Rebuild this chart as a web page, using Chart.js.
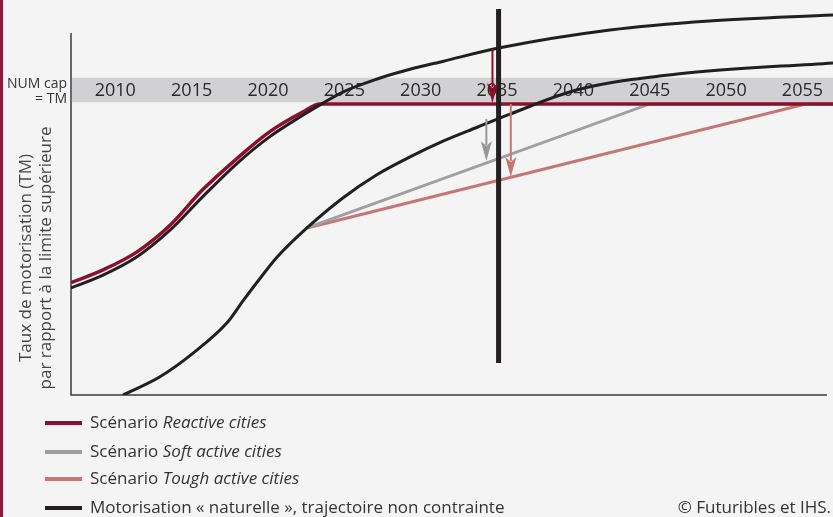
<!DOCTYPE html>
<html>
<head>
<meta charset="utf-8">
<script src="https://cdn.jsdelivr.net/npm/chart.js@4.4.1/dist/chart.umd.min.js"></script>
<style>
  html, body { margin: 0; padding: 0; background: #f4f4f4; }
  #wrap { position: relative; width: 833px; height: 517px; overflow: hidden; font-family: "Open Sans", sans-serif; color: #333; }
  #border { position: absolute; left: 0; top: 0; width: 3px; height: 517px; background: #8c1a3a; }
  .ytitle { position: absolute; left: 35px; top: 258px; transform: translate(-50%, -50%) rotate(-90deg); white-space: nowrap; text-align: center; font-size: 17px; line-height: 20px; color: #444; }
  .cap { position: absolute; right: 766px; top: 75px; font-size: 14px; line-height: 15px; text-align: right; white-space: nowrap; color: #333; }
  .leg { position: absolute; left: 45px; height: 28px; line-height: 28px; font-size: 17px; white-space: nowrap; }
  .leg i.sw { display: inline-block; width: 37px; height: 4px; vertical-align: middle; margin-right: 8px; }
  .credit { position: absolute; right: 2px; top: 493px; height: 28px; line-height: 28px; font-size: 17px; white-space: nowrap; }
</style>
</head>
<body>
<div id="wrap">
  <canvas id="chart" width="833" height="517"></canvas>
  <div id="border"></div>
  <div class="ytitle">Taux de motorisation (TM)<br>par rapport à la limite supérieure</div>
  <div class="cap">NUM cap<br>= TM</div>
  <div class="leg" style="top:408px"><i class="sw" style="background:#8b1030"></i>Scénario <em>Reactive cities</em></div>
  <div class="leg" style="top:437px"><i class="sw" style="background:#9d9d9f"></i>Scénario <em>Soft active cities</em></div>
  <div class="leg" style="top:464px"><i class="sw" style="background:#c47777"></i>Scénario <em>Tough active cities</em></div>
  <div class="leg" style="top:493px"><i class="sw" style="background:#231f20"></i>Motorisation « naturelle », trajectoire non contrainte</div>
  <div class="credit">© Futuribles et IHS.</div>
</div>
<script>
// x tick labels shown inside the grey band
const tickYears = [2010, 2015, 2020, 2025, 2030, 2035, 2040, 2045, 2050, 2055];

// motorisation rate, 100 = upper limit (NUM cap)
const capValue = 100;

const reactiveYears  = [2007.1, 2009.2, 2011.4, 2013.6, 2015.7, 2018.0, 2020.1, 2022.3, 2023.4, 2030, 2040, 2057];
const reactiveValues = [38.6, 43.0, 49.1, 58.4, 70.4, 81.4, 90.4, 97.3, 100, 100, 100, 100];

const naturalYears  = [2007.1, 2009.2, 2011.4, 2013.6, 2015.7, 2018.0, 2020.1, 2022.3, 2023.6, 2024.9, 2027.1, 2029.3, 2031.5, 2035.1, 2042.4, 2048.9, 2057];
const naturalValues = [36.8, 41.2, 47.4, 56.7, 68.0, 79.7, 88.7, 96.2, 100.3, 104.1, 108.5, 111.9, 114.7, 119.2, 125.4, 128.5, 130.6];

const lateYears  = [2010.5, 2012.9, 2015.1, 2017.3, 2018.4, 2019.5, 2020.6, 2022.55, 2024.9, 2027.1, 2029.3, 2031.5, 2033.7, 2035.85, 2040.2, 2046.8, 2057];
const lateValues = [0, 6.2, 14.4, 24.7, 32.6, 40.2, 47.4, 57.4, 67.7, 75.6, 81.8, 87.3, 92.0, 96.5, 104.8, 110.3, 114.1];

const softYears  = [2022.55, 2045.0, 2057];
const softValues = [57.4, capValue, capValue];

const toughYears  = [2022.55, 2055.2, 2057];
const toughValues = [57.4, capValue, capValue];

// marker year and its vertical bar extent
const markerYear = 2035.1;
const markerValues = [11, 132.6];

// arrows: year, start value, end value
const arrowYears = [2034.7, 2034.3, 2035.9];
const arrowFrom  = [118.9, 94.8, 100];
const arrowTo    = [100.3, 80.4, 74.9];
const arrowColors = ['#8b1030', '#97979a', '#c47777'];

const pts = (xs, ys) => xs.map((x, i) => ({ x: x, y: ys[i] }));

const framePlugin = {
  id: 'frame',
  beforeDatasetsDraw(chart) {
    const { ctx, chartArea, scales: { x, y } } = chart;
    ctx.save();
    // grey band
    const bTop = y.getPixelForValue(109);
    const bBot = y.getPixelForValue(100.6);
    ctx.fillStyle = '#d1d1d3';
    ctx.fillRect(chartArea.left + 1, bTop, chartArea.right - chartArea.left, bBot - bTop);
    // year labels
    ctx.fillStyle = '#2a2a2a';
    ctx.font = '18px "Open Sans"';
    ctx.textAlign = 'center';
    ctx.textBaseline = 'middle';
    const ly = (bTop + bBot) / 2 + 1;
    tickYears.forEach(t => ctx.fillText(String(t), x.getPixelForValue(t), ly));
    // axes
    ctx.strokeStyle = '#3a3a3a';
    ctx.lineWidth = 1.5;
    ctx.beginPath();
    ctx.moveTo(chartArea.left, y.getPixelForValue(124.4));
    ctx.lineTo(chartArea.left, y.getPixelForValue(0));
    ctx.lineTo(x.getPixelForValue(2056.6), y.getPixelForValue(0));
    ctx.stroke();
    ctx.restore();
  },
  afterDatasetsDraw(chart) {
    const { ctx, scales: { x, y } } = chart;
    ctx.save();
    arrowYears.forEach((yr, i) => {
      const px = x.getPixelForValue(yr);
      const p0 = y.getPixelForValue(arrowFrom[i]);
      const p1 = y.getPixelForValue(arrowTo[i]);
      ctx.strokeStyle = arrowColors[i];
      ctx.fillStyle = arrowColors[i];
      ctx.lineWidth = 2;
      ctx.beginPath();
      ctx.moveTo(px, p0);
      ctx.lineTo(px, p1 - 16);
      ctx.stroke();
      ctx.beginPath();
      ctx.moveTo(px - 5.5, p1 - 20);
      ctx.lineTo(px, p1 - 15);
      ctx.lineTo(px + 5.5, p1 - 20);
      ctx.lineTo(px, p1);
      ctx.closePath();
      ctx.fill();
    });
    ctx.restore();
  }
};

const straight = { cubicInterpolationMode: 'default', tension: 0 };

new Chart(document.getElementById('chart'), {
  type: 'line',
  data: {
    datasets: [
      { data: pts([markerYear, markerYear], markerValues), borderColor: '#231f20', borderWidth: 5, borderCapStyle: 'butt', ...straight },
      { data: pts(naturalYears, naturalValues), borderColor: '#231f20', borderWidth: 3 },
      { data: pts(lateYears, lateValues), borderColor: '#231f20', borderWidth: 3 },
      { data: pts(reactiveYears, reactiveValues), borderColor: '#8b1030', borderWidth: 3.5 },
      { data: pts(softYears, softValues), borderColor: '#a0a0a2', borderWidth: 3, ...straight },
      { data: pts(toughYears, toughValues), borderColor: '#c47777', borderWidth: 3, ...straight }
    ]
  },
  options: {
    responsive: false,
    animation: false,
    layout: { padding: { left: 71, right: 0, top: 5, bottom: 122 } },
    elements: { point: { radius: 0 }, line: { cubicInterpolationMode: 'monotone', fill: false } },
    scales: {
      x: { type: 'linear', min: 2007.1, max: 2057, display: false },
      y: { min: 0, max: 134, display: false }
    },
    plugins: { legend: { display: false }, tooltip: { enabled: false } }
  },
  plugins: [framePlugin]
});
</script>
</body>
</html>
